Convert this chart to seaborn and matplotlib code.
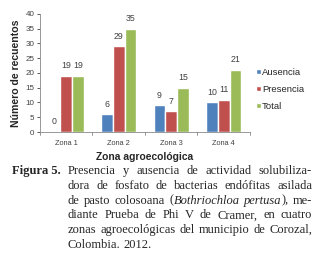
import matplotlib
matplotlib.use("Agg")
import matplotlib.pyplot as plt
import pandas as pd
import seaborn as sns

zonas = ["Zona 1", "Zona 2", "Zona 3", "Zona 4"]
series = ["Ausencia", "Presencia", "Total"]
ausencia = [0, 6, 9, 10]
presencia = [19, 29, 7, 11]
total = [19, 35, 15, 21]
colors = ["#4F81BD", "#C0504D", "#9BBB59"]

caption_lines = [
    [[("Presencia", "normal")], [("y", "normal")], [("ausencia", "normal")], [("de", "normal")],
     [("actividad", "normal")], [("solubiliza-", "normal")]],
    [[("dora", "normal")], [("de", "normal")], [("fosfato", "normal")], [("de", "normal")],
     [("bacterias", "normal")], [("endófitas", "normal")], [("asilada", "normal")]],
    [[("de", "normal")], [("pasto", "normal")], [("colosoana", "normal")],
     [("(", "normal"), ("Bothriochloa", "italic")], [("pertusa", "italic"), ("),", "normal")],
     [("me-", "normal")]],
    [[("diante", "normal")], [("Prueba", "normal")], [("de", "normal")], [("Phi", "normal")],
     [("V", "normal")], [("de", "normal")], [("Cramer,", "normal")], [("en", "normal")],
     [("cuatro", "normal")]],
    [[("zonas", "normal")], [("agroecológicas", "normal")], [("del", "normal")],
     [("municipio", "normal")], [("de", "normal")], [("Corozal,", "normal")]],
    [[("Colombia.", "normal")], [("2012.", "normal")]],
]

df = pd.DataFrame({
    "zona": zonas * 3,
    "serie": [s for s in series for _ in zonas],
    "valor": ausencia + presencia + total,
})

sns.set_theme(style="white")
plt.rcParams["font.family"] = ["Liberation Sans", "DejaVu Sans"]

fig = plt.figure(figsize=(3.21, 2.60), dpi=100)
ax = fig.add_axes([0.1246, 0.4923, 0.654, 0.454])

sns.barplot(data=df, x="zona", y="valor", hue="serie", palette=colors,
            width=0.67, saturation=1, ax=ax, legend=True)

for cont in ax.containers:
    ax.bar_label(cont, labels=[f"{v:g}" for v in cont.datavalues],
                 fontsize=6.3, color="#404040", padding=4)

ax.set_ylim(0, 40)
ax.set_xlim(-0.5, 3.5)
ax.set_yticks(range(0, 41, 5))
ax.tick_params(axis="y", labelsize=5.8, colors="#404040", length=2.5, width=0.6,
               left=True, pad=1.5)
ax.tick_params(axis="x", labelsize=5.3, colors="#404040", length=0, pad=6)
ax.set_xticks(range(4), zonas)
for b in [-0.5, 0.5, 1.5, 2.5, 3.5]:
    ax.plot([b, b], [0, -0.9], color="#888888", lw=0.6, clip_on=False)
ax.set_xlabel("Zona agroecológica", fontsize=7.4, fontweight="bold", labelpad=3)
ax.set_ylabel("Número de recuentos", fontsize=7.6, fontweight="bold", labelpad=3)
for s in ["top", "right"]:
    ax.spines[s].set_visible(False)
for s in ["left", "bottom"]:
    ax.spines[s].set_color("#888888")
    ax.spines[s].set_linewidth(0.6)

handles, labels = ax.get_legend_handles_labels()
ax.legend(handles, labels, loc="center left", bbox_to_anchor=(1.01, 0.36),
          frameon=False, fontsize=6.8, handlelength=0.5, handleheight=0.5,
          handletextpad=0.15, labelspacing=0.85, borderaxespad=0)

# caption, justified line by line
renderer = fig.canvas.get_renderer()
serif = ["Liberation Serif", "DejaVu Serif"]
fs = 9.0
W, H = 321.0, 260.0
x0, x1 = 68.0, 312.0
base0, step = 174.0, 14.8

fig.text(12 / W, 1 - base0 / H, "Figura 5.", family=serif, fontsize=fs,
         fontweight="bold", va="baseline", ha="left")


def seg_width(text, style):
    t = fig.text(0, 0, text, family=serif, fontsize=fs, style=style)
    w = t.get_window_extent(renderer).width
    t.remove()
    return w


space = seg_width("a a", "normal") - 2 * seg_width("a", "normal")
for i, words in enumerate(caption_lines):
    y = 1 - (base0 + i * step) / H
    widths = [sum(seg_width(t, s) for t, s in w) for w in words]
    last = i == len(caption_lines) - 1
    if last or len(words) < 2:
        gap = space
    else:
        gap = max((x1 - x0 - sum(widths)) / (len(words) - 1), space * 0.6)
    x = x0
    for w, wd in zip(words, widths):
        xs = x
        for t, s in w:
            fig.text(xs / W, y, t, family=serif, fontsize=fs, style=s,
                     va="baseline", ha="left")
            xs += seg_width(t, s)
        x += wd + gap

fig.savefig("out.png", dpi=100)
